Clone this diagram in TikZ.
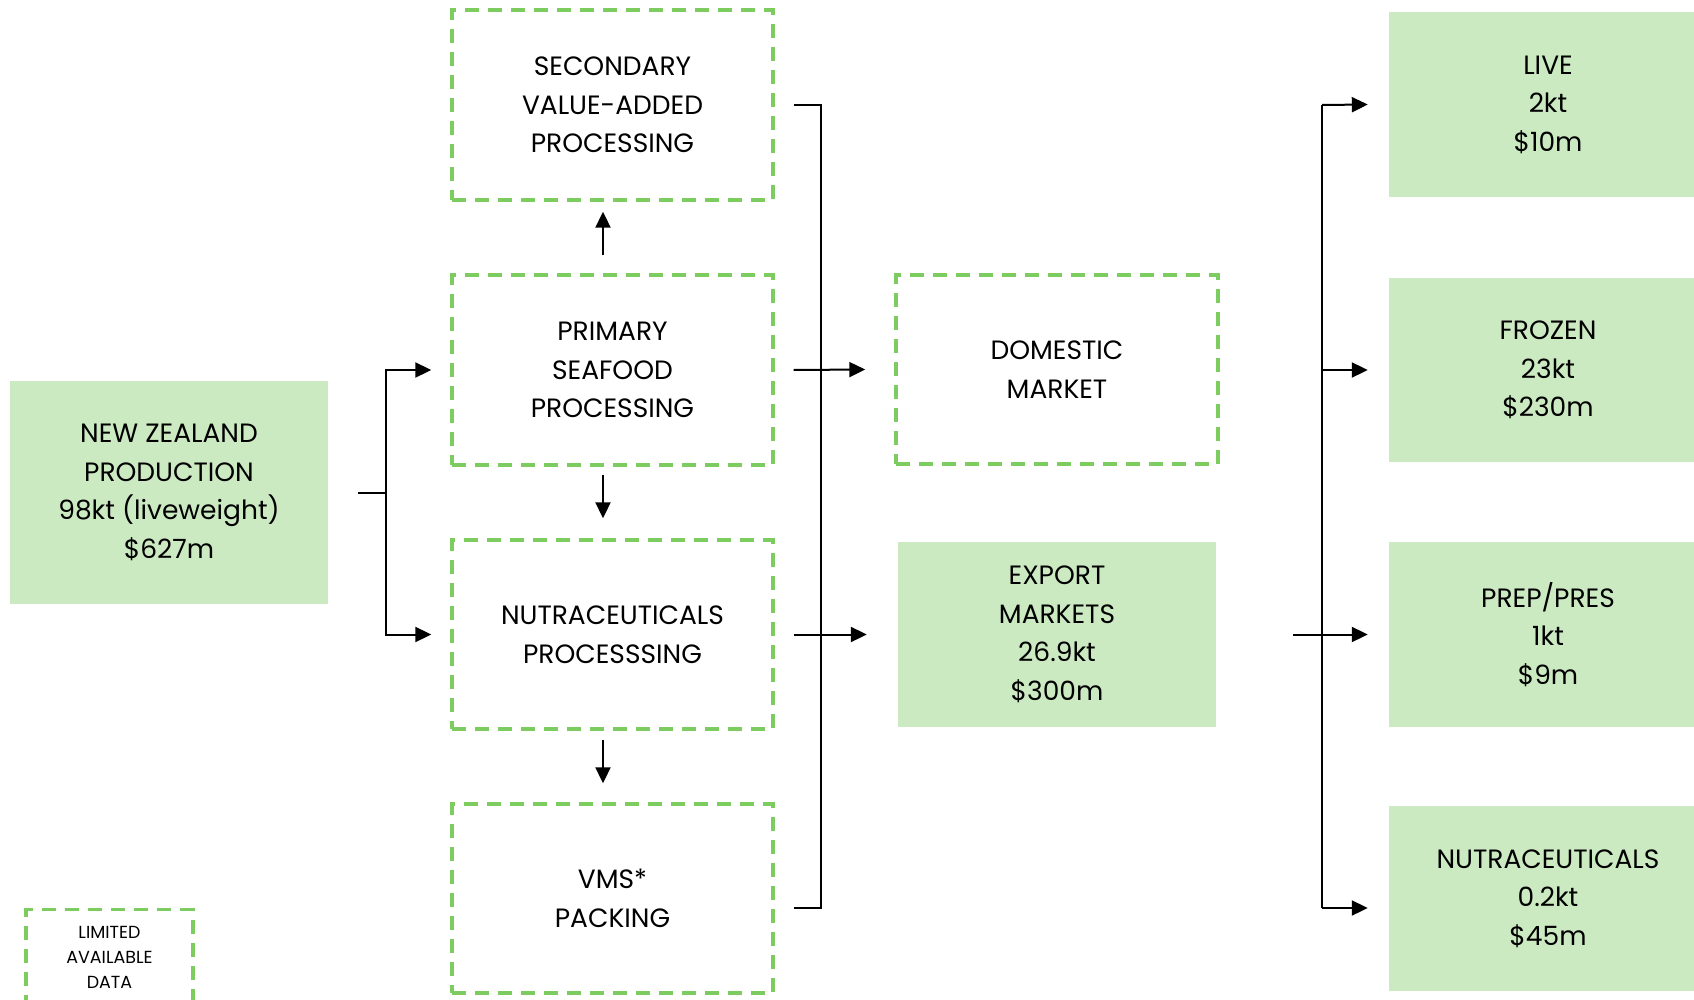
\documentclass[tikz,border=0pt]{standalone}
\usepackage{fontspec}
\setmainfont{Poppins}
\usetikzlibrary{arrows.meta,calc}
\definecolor{boxfill}{RGB}{204,234,194}
\definecolor{dashgreen}{RGB}{125,204,96}
\tikzset{
  filledbox/.style={rectangle, fill=boxfill, draw=none, align=center, inner sep=0pt,
    font=\fontsize{26.5}{38.5}\selectfont},
  dashbox/.style={rectangle, draw=dashgreen, line width=3.4pt, dash pattern=on 14pt off 9pt,
    fill=white, align=center, inner sep=0pt, font=\fontsize{26.5}{38.5}\selectfont},
  conn/.style={line width=2pt, black},
  arr/.style={conn, -{Triangle[length=16pt,width=15pt]}}
}
\begin{document}
\begin{tikzpicture}[x=1pt,y=-1pt]
\clip (0,0) rectangle (1694,1000);
\fill[white] (0,0) rectangle (1694,1000);
% column 1
\node[filledbox, minimum width=318pt, minimum height=223pt] (nz) at (169,492.5)
  {NEW ZEALAND\\PRODUCTION\\98kt (liveweight)\\\$627m};
% column 2
\node[dashbox, minimum width=321pt, minimum height=190pt] (sec) at (612.5,105)
  {SECONDARY\\VALUE-ADDED\\PROCESSING};
\node[dashbox, minimum width=321pt, minimum height=190pt] (prim) at (612.5,370)
  {PRIMARY\\SEAFOOD\\PROCESSING};
\node[dashbox, minimum width=321pt, minimum height=189pt] (nutp) at (612.5,634.5)
  {NUTRACEUTICALS\\PROCESSSING};
\node[dashbox, minimum width=321pt, minimum height=189pt] (vms) at (612.5,898.5)
  {VMS*\\PACKING};
% column 3
\node[dashbox, minimum width=322pt, minimum height=189pt] (dom) at (1057,369.5)
  {DOMESTIC\\MARKET};
\node[filledbox, minimum width=318pt, minimum height=185pt] (exp) at (1057,634.5)
  {EXPORT\\MARKETS\\26.9kt\\\$300m};
% column 4
\node[filledbox, minimum width=318pt, minimum height=185pt] (live) at (1548,104.5)
  {LIVE\\2kt\\\$10m};
\node[filledbox, minimum width=318pt, minimum height=184pt] (frozen) at (1548,370)
  {FROZEN\\23kt\\\$230m};
\node[filledbox, minimum width=318pt, minimum height=185pt] (prep) at (1548,634.5)
  {PREP/PRES\\1kt\\\$9m};
\node[filledbox, minimum width=318pt, minimum height=185pt] (nutr) at (1548,898.5)
  {NUTRACEUTICALS\\0.2kt\\\$45m};
% legend
\node[dashbox, minimum width=167pt, minimum height=110pt,
  anchor=north] (leg) at (109.5,908) {};
\node[align=center, inner sep=0pt, font=\fontsize{17.5}{25}\selectfont] (legtxt) at (109.5,957)
  {LIMITED\\AVAILABLE\\DATA};
% connectors: left split
\coordinate (j1) at (386,492.5);
\draw[conn] ([xshift=30]nz.east) -- (j1);
\draw[arr] (j1) |- ([xshift=-19]prim.west);
\draw[arr] (j1) |- ([xshift=-19]nutp.west);
% vertical arrows in column 2
\draw[arr] ([shift={(-9.5,-18)}]prim.north) -- ([shift={(-9.5,10)}]sec.south);
\draw[arr] ([shift={(-9.5,8)}]prim.south) -- ([shift={(-9.5,-20)}]nutp.north);
\draw[arr] ([shift={(-9.5,9)}]nutp.south) -- ([shift={(-9.5,-19)}]vms.north);
% middle trunk
\coordinate (t1) at (821,105);
\coordinate (t2) at (821,908);
\draw[conn] ([xshift=19]sec.east) -- (t1) -- (t2) -- ([shift={(19,9.5)}]vms.east);
\draw[arr] ([xshift=19]prim.east) -- ([xshift=-29]dom.west);
\draw[arr] ([xshift=19]nutp.east) -- ([xshift=-31]exp.west);
% right trunk
\coordinate (r1) at (1322,105);
\coordinate (r2) at (1322,908);
\draw[conn] (r1) -- (r2);
\draw[arr] (r1) -- ([xshift=-21]live.west);
\draw[arr] (r1 |- frozen.west) -- ([xshift=-21]frozen.west);
\draw[arr] ([xshift=77]exp.east) -- ([xshift=-21]prep.west);
\draw[arr] (r2) -- ([shift={(-21,9.5)}]nutr.west);
\end{tikzpicture}
\end{document}
